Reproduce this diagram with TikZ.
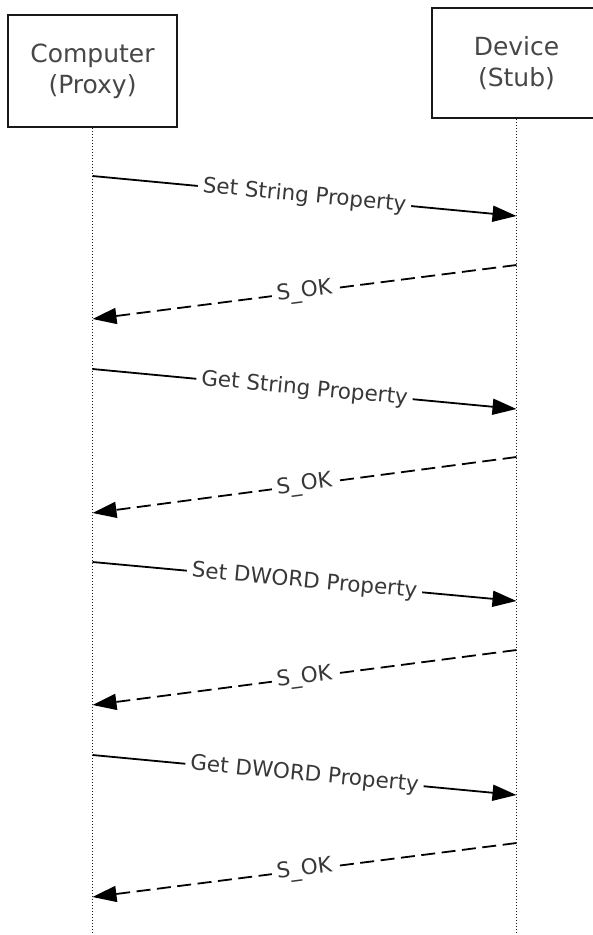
\documentclass[tikz,border=0pt]{standalone}
\usepackage{fontspec}
\setmainfont{DejaVu Sans}
\usetikzlibrary{arrows.meta}

\tikzset{
  lifebox/.style={draw=black!90, line width=1.8pt, fill=white, minimum width=169pt, align=center, inner sep=0pt, font=\fontsize{25}{31}\selectfont, text=black!72},
  lifeline/.style={draw=black!90, line width=1.2pt, dash pattern=on 1.5pt off 1.5pt},
  callarrow/.style={draw=black, line width=1.8pt, -{Triangle[length=24pt,width=16pt]}},
  replyarrow/.style={callarrow, dash pattern=on 14pt off 6.5pt},
  msg/.style={midway, sloped, fill=white, inner xsep=5pt, inner ysep=1pt, font=\fontsize{21.5}{25}\selectfont, text=black!78}
}

\begin{document}
\begin{tikzpicture}[x=1pt,y=1pt]
      \useasboundingbox (0,0) rectangle (593,-935);

      % Lifeline heads
      \node [lifebox, minimum height=112pt] (comp) at (92.5,-71) {Computer\\(Proxy)};
      \node [lifebox, minimum height=110pt] (dev) at (516.5,-63) {Device\\(Stub)};

      % Lifeline ends
      \coordinate (compend) at (92.5,-935);
      \coordinate (devend) at (516.5,-935);
      \draw [lifeline] (comp.south) -- (compend);
      \draw [lifeline] (dev.south) -- (devend);

      % Message points on the lifelines
      \coordinate (c1) at (92.5,-176);  \coordinate (d1) at (516.5,-216);
      \coordinate (d2) at (516.5,-265);  \coordinate (c2) at (92.5,-319);
      \coordinate (c3) at (92.5,-369);  \coordinate (d3) at (516.5,-409);
      \coordinate (d4) at (516.5,-457);  \coordinate (c4) at (92.5,-513);
      \coordinate (c5) at (92.5,-562);  \coordinate (d5) at (516.5,-601);
      \coordinate (d6) at (516.5,-650);  \coordinate (c6) at (92.5,-705);
      \coordinate (c7) at (92.5,-755);  \coordinate (d7) at (516.5,-795);
      \coordinate (d8) at (516.5,-843);  \coordinate (c8) at (92.5,-897);

      % Set String Property
      \draw [callarrow] (c1) -- node [msg] (m1) {Set String Property} (d1);
      \draw [replyarrow] (d2) -- node [msg] (r1) {S\_OK} (c2);
      % Get String Property
      \draw [callarrow] (c3) -- node [msg] (m2) {Get String Property} (d3);
      \draw [replyarrow] (d4) -- node [msg] (r2) {S\_OK} (c4);
      % Set DWORD Property
      \draw [callarrow] (c5) -- node [msg] (m3) {Set DWORD Property} (d5);
      \draw [replyarrow] (d6) -- node [msg] (r3) {S\_OK} (c6);
      % Get DWORD Property
      \draw [callarrow] (c7) -- node [msg] (m4) {Get DWORD Property} (d7);
      \draw [replyarrow] (d8) -- node [msg] (r4) {S\_OK} (c8);

\end{tikzpicture}
\end{document}
